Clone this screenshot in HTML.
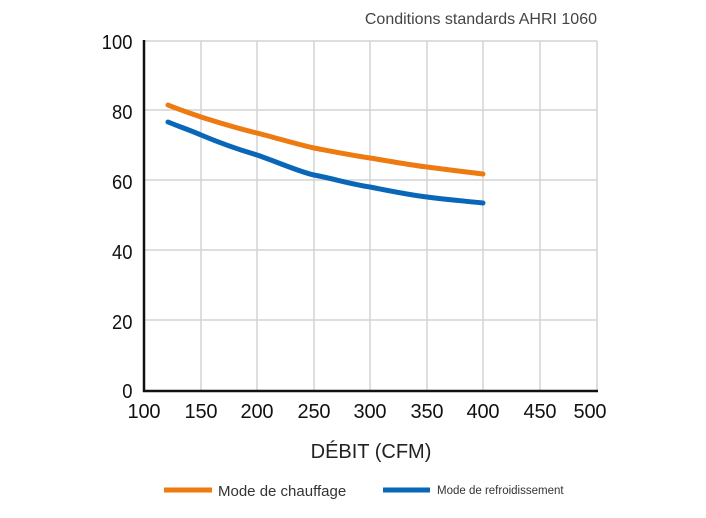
<!DOCTYPE html>
<html><head><style>
body{margin:0;background:#fff;width:706px;height:513px;overflow:hidden;font-family:"Liberation Sans",sans-serif}
</style></head><body>
<svg width="706" height="513" viewBox="0 0 706 513" xmlns="http://www.w3.org/2000/svg">
<text x="597" y="24" text-anchor="end" font-size="16" fill="#444">Conditions standards AHRI 1060</text>
<g stroke="#d4d4d4" stroke-width="1.5">
<line x1="201" y1="41" x2="201" y2="391"/><line x1="257" y1="41" x2="257" y2="391"/>
<line x1="314" y1="41" x2="314" y2="391"/><line x1="370" y1="41" x2="370" y2="391"/>
<line x1="427" y1="41" x2="427" y2="391"/><line x1="483" y1="41" x2="483" y2="391"/>
<line x1="540" y1="41" x2="540" y2="391"/><line x1="597" y1="41" x2="597" y2="391"/>
<line x1="144" y1="41" x2="597" y2="41"/><line x1="144" y1="110" x2="597" y2="110"/>
<line x1="144" y1="180" x2="597" y2="180"/><line x1="144" y1="250" x2="597" y2="250"/>
<line x1="144" y1="320" x2="597" y2="320"/>
</g>
<g stroke="#111" stroke-width="2.5"><line x1="144" y1="40" x2="144" y2="392"/><line x1="143" y1="391" x2="598" y2="391"/></g>
<g font-size="20" fill="#111" text-anchor="end" transform="scale(0.92,1)">
<text x="144" y="49">100</text><text x="144" y="119">80</text><text x="144" y="189">60</text>
<text x="144" y="259">40</text><text x="144" y="329">20</text><text x="144" y="398">0</text>
</g>
<g font-size="20" fill="#111" text-anchor="middle">
<text x="144" y="418" textLength="33">100</text><text x="201" y="418" textLength="33">150</text><text x="257" y="418" textLength="33">200</text>
<text x="314" y="418" textLength="33">250</text><text x="370" y="418" textLength="33">300</text><text x="427" y="418" textLength="33">350</text>
<text x="483" y="418" textLength="33">400</text><text x="540" y="418" textLength="33">450</text><text x="590" y="418" textLength="33">500</text>
</g>
<path d="M168,105 C180,110 190,113 201,117 C220,123 240,129 257,133 C280,139 300,145 314,148 C335,152 350,155 370,158 C395,162 410,165 427,167 C450,170 465,172 483,174" fill="none" stroke="#ee7a12" stroke-width="5" stroke-linecap="round"/>
<path d="M168,122 C180,127 190,130 201,135 C220,143 240,150 257,155 C280,163 300,172 314,175 C335,179 350,184 370,187 C395,192 410,195 427,197 C450,200 465,201 483,203" fill="none" stroke="#0a67b8" stroke-width="5" stroke-linecap="round"/>
<text x="371" y="458" text-anchor="middle" font-size="20" fill="#222">DÉBIT (CFM)</text>
<line x1="164" y1="490" x2="212" y2="490" stroke="#ee7a12" stroke-width="5"/>
<text x="218" y="496" font-size="15" fill="#333">Mode de chauffage</text>
<line x1="383" y1="490" x2="430" y2="490" stroke="#0a67b8" stroke-width="5"/>
<text x="437" y="494" font-size="11.5" fill="#333">Mode de refroidissement</text>
</svg>
</body></html>
